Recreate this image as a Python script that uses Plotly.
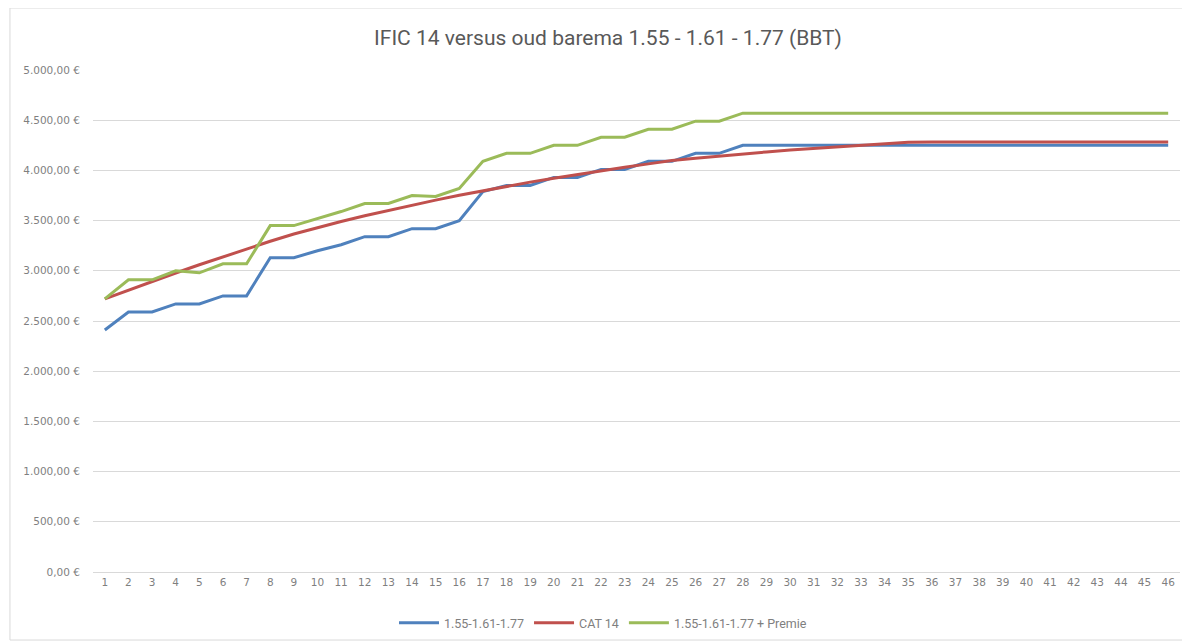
import plotly.graph_objects as go

years = list(range(1, 47))

series_blue = [2410, 2590, 2590, 2670, 2670, 2750, 2750, 3130, 3130, 3200,
               3260, 3340, 3340, 3420, 3420, 3500, 3790, 3850, 3850, 3930,
               3930, 4010, 4010, 4090, 4090, 4170, 4170, 4250, 4250, 4250,
               4250, 4250, 4250, 4250, 4250, 4250, 4250, 4250, 4250, 4250,
               4250, 4250, 4250, 4250, 4250, 4250]

series_red = [2720, 2808, 2894, 2978, 3060, 3140, 3218, 3294, 3367, 3431,
              3491, 3548, 3602, 3654, 3704, 3752, 3798, 3842, 3883, 3922,
              3960, 3996, 4031, 4065, 4098, 4122, 4144, 4165, 4184, 4202,
              4219, 4234, 4248, 4266, 4280, 4282, 4282, 4282, 4282, 4282,
              4282, 4282, 4282, 4282, 4282, 4282]

series_green = [2720, 2910, 2910, 3000, 2980, 3070, 3070, 3450, 3450, 3520,
                3590, 3670, 3670, 3750, 3740, 3820, 4090, 4170, 4170, 4250,
                4250, 4330, 4330, 4410, 4410, 4490, 4490, 4570, 4570, 4570,
                4570, 4570, 4570, 4570, 4570, 4570, 4570, 4570, 4570, 4570,
                4570, 4570, 4570, 4570, 4570, 4570]

series_names = ["1.55-1.61-1.77", "CAT 14", "1.55-1.61-1.77 + Premie"]

y_tick_values = [0, 500, 1000, 1500, 2000, 2500, 3000, 3500, 4000, 4500, 5000]
y_tick_labels = ["0,00 €", "500,00 €", "1.000,00 €", "1.500,00 €", "2.000,00 €",
                 "2.500,00 €", "3.000,00 €", "3.500,00 €", "4.000,00 €",
                 "4.500,00 €", "5.000,00 €"]

title_text = "IFIC 14 versus oud barema 1.55 - 1.61 - 1.77 (BBT)"

colors = ["#4F81BD", "#C0504D", "#9BBB59"]
font_family = "Roboto, Liberation Sans, Arial, sans-serif"
tick_family = "DejaVu Sans, Roboto, sans-serif"

W, H = 1182, 634  # page has an 8px body margin

fig = go.Figure()
for name, vals, col in zip(series_names, [series_blue, series_red, series_green], colors):
    fig.add_trace(go.Scatter(x=years, y=vals, mode="lines", name=name,
                             line=dict(color=col, width=3)))

fig.update_layout(
    width=W, height=H,
    margin=dict(l=85, r=10, t=62, b=70, autoexpand=False),
    paper_bgcolor="white", plot_bgcolor="white",
    title=dict(text=title_text, x=600 / W, xanchor="center", y=1 - 30 / H,
               yanchor="middle", font=dict(family=font_family, size=21, color="#595959")),
    font=dict(family=font_family, color="#7F7F7F", size=12),
    showlegend=True,
    legend=dict(orientation="h", x=(603 - 93) / 1087, xanchor="center",
                y=-(623 - 572) / 502, yanchor="middle",
                font=dict(size=12.5, color="#7F7F7F"), itemwidth=40,
                bgcolor="rgba(0,0,0,0)"),
    xaxis=dict(range=[0.5, 46.5], tickmode="array", tickvals=years,
               ticktext=[str(v) for v in years], tickangle=0, showgrid=False,
               showline=True, linecolor="#D9D9D9", linewidth=1, ticks="",
               automargin=False,
               tickfont=dict(family=tick_family, size=10.5, color="#7F7F7F"), zeroline=False),
    yaxis=dict(range=[0, 5000], tickmode="array", tickvals=y_tick_values,
               ticktext=y_tick_labels, showgrid=True, gridcolor="#D9D9D9",
               gridwidth=1, zeroline=False, showline=False, ticks="",
               ticklabelstandoff=12, automargin=False,
               tickfont=dict(family=tick_family, size=10.5, color="#7F7F7F")),
)

fig.add_shape(type="rect", xref="paper", yref="paper",
              x0=-0.0764, x1=1.0065, y0=-0.1355, y1=1.1235,
              line=dict(color="#D9D9D9", width=1), fillcolor="rgba(0,0,0,0)", layer="below")

fig.write_html("out.html")
